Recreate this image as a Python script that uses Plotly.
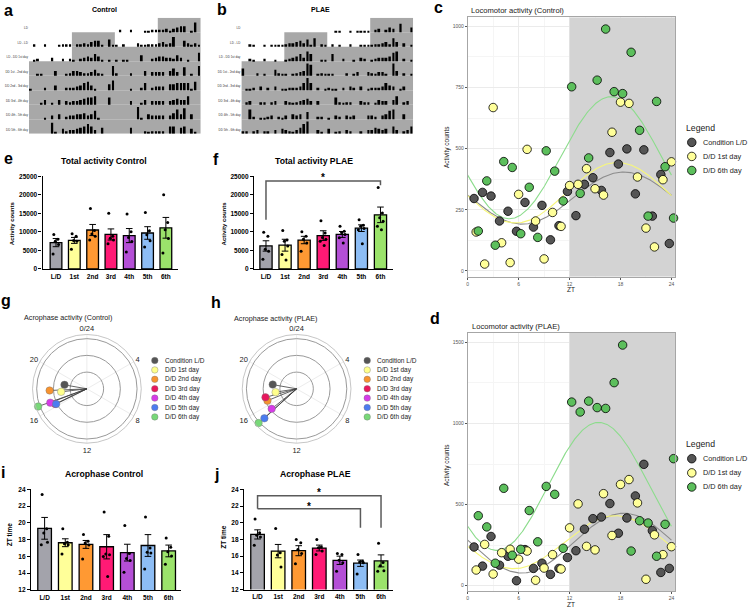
import numpy as np
import plotly.graph_objects as go

W, H = 748, 610
FONT = "Liberation Sans, Arial, sans-serif"

# ---------------- a/b actograms: activity per hour (0-10), double plotted 48 h
row_labels = ["LD", "LD - LD", "LD - DD 1st day", "DD 1st - 2nd day", "DD 2nd - 3rd day",
              "DD 3rd - 4th day", "DD 4th - 5th day", "DD 5th - 6th day"]
row_dark = [[(36, 48)], [(12, 24), (36, 48)], [(12, 48)], [(0, 48)], [(0, 48)],
            [(0, 48)], [(0, 48)], [(0, 48)]]

acto_control = [
    [0,0,0,0,0,0,0,0,0,0,0,0, 0,0,0,0,0,0,0,0,0,0,0,0, 0,2,0,0,2,0,0,0,1,1,2,2, 2,2,3,1,3,4,5,5,0,1,8,0],
    [0,2,0,0,2,0,0,0,1,2,2,2, 0,2,2,3,2,4,5,5,1,0,6,1, 1,0,2,0,0,0,3,1,1,2,2,2, 3,4,2,3,8,0,0,5,3,1,3,1],
    [0,1,2,0,0,0,3,0,0,2,0,2, 1,0,2,3,4,3,6,4,1,0,1,0, 1,0,1,1,0,0,0,5,0,0,2,3, 4,4,3,3,2,5,3,0,1,0,0,7],
    [0,0,1,1,0,0,0,4,0,0,1,2, 4,4,3,2,2,3,5,2,1,0,0,8, 2,0,0,0,2,0,0,0,4,0,3,3, 3,3,0,4,6,3,0,7,0,1,0,8],
    [1,0,0,0,2,0,0,4,0,0,2,2, 2,3,4,6,7,4,1,0,0,0,5,8, 0,0,0,0,1,0,0,2,6,0,2,3, 3,3,0,5,5,6,6,6,6,1,7,0],
    [0,0,0,1,4,0,1,0,4,0,3,2, 3,3,4,5,6,6,7,0,0,0,6,0, 0,0,0,0,3,0,0,1,4,0,3,3, 3,3,0,3,4,5,4,4,7,0,0,0],
    [0,0,0,0,1,0,3,0,4,0,2,3, 3,4,4,5,3,4,7,1,0,0,0,0, 0,0,0,0,0,0,10,1,0,4,3,3, 3,3,0,3,5,8,4,9,0,4,0,0],
    [0,0,0,0,0,0,9,1,0,4,2,3, 3,4,5,6,8,6,3,0,5,0,0,0, 0,0,0,0,5,0,0,0,2,1,2,2, 2,2,0,6,6,0,5,6,0,4,1,0],
]
acto_plae = [
    [0,0,0,0,0,0,0,0,0,0,0,0, 0,0,0,0,0,0,0,0,0,0,0,0, 0,0,1,1,0,0,1,0,1,1,1,1, 0,2,3,0,2,4,3,0,7,0,0,4],
    [0,0,2,1,0,0,1,0,1,1,1,1, 2,3,3,4,5,3,6,1,7,0,2,1, 0,2,0,1,0,0,2,0,0,1,1,1, 1,2,2,3,4,2,7,4,0,3,0,1],
    [0,0,2,1,0,0,2,0,0,1,0,0, 1,2,3,4,6,3,8,6,0,0,1,1, 0,6,0,0,2,0,0,1,0,3,2,0, 1,2,3,3,3,4,7,8,0,2,0,1],
    [6,0,0,0,2,0,1,0,0,5,2,1, 1,0,1,2,3,4,10,9,0,1,2,1, 1,1,0,0,0,2,0,1,3,0,0,3, 2,1,3,3,1,0,10,4,0,2,0,1],
    [0,1,1,2,0,3,0,2,0,3,0,1, 1,2,2,2,3,6,10,6,0,2,0,1, 2,1,1,0,2,0,3,2,0,3,0,1, 2,2,2,3,6,4,3,0,1,3,0,0],
    [0,2,3,0,0,2,2,0,2,3,0,0, 3,2,1,2,3,4,5,3,0,3,0,0, 0,0,6,2,1,2,2,0,0,3,2,2, 0,1,4,3,3,0,4,7,0,2,3,0],
    [0,0,8,2,0,1,1,2,3,0,2,1, 3,0,4,3,4,0,6,0,0,2,2,0, 1,0,3,2,0,3,2,3,0,0,0,3, 3,2,0,3,4,7,8,0,0,4,0,0],
    [2,2,0,2,3,0,2,2,0,3,0,4, 3,2,1,3,5,8,10,0,0,3,1,0, 4,0,1,2,0,3,2,0,0,2,0,3, 3,5,4,3,4,0,6,3,0,2,3,6],
]

# ---------------- e/f/i/j bar charts
bar_labels = ["L/D", "1st", "2nd", "3rd", "4th", "5th", "6th"]
bar_colors = ["#a3a3ab", "#ffff99", "#ff9933", "#ff1a75", "#b44fd6", "#8dbdf5", "#9be36b"]

tot_ctrl_mean = [7100, 7700, 10500, 9300, 9000, 9700, 11100]
tot_ctrl_sem = [1100, 800, 1500, 1500, 1900, 1700, 2800]
tot_ctrl_pts = [[9300, 8000, 7500, 6600, 4000], [9500, 8800, 7700, 7500, 5300],
                [16300, 10400, 9400, 8800, 7800], [15000, 8800, 8300, 7800, 6800],
                [14800, 10000, 8500, 7400, 4600], [15200, 10300, 9200, 7600, 5900],
                [20000, 12500, 10600, 8200, 4300]]

tot_plae_mean = [6200, 6400, 7800, 9000, 9300, 11000, 14600]
tot_plae_sem = [1400, 1600, 1000, 1300, 800, 900, 2100]
tot_plae_pts = [[9900, 8800, 5300, 4800, 2600], [10400, 7800, 7500, 6200, 3900, 2400],
                [10000, 8800, 8000, 7000, 4800], [13000, 9700, 8500, 8000, 7500, 6300],
                [11500, 10200, 9800, 9300, 8400, 7000], [13300, 11800, 11500, 10900, 10600, 6800],
                [22000, 15100, 13800, 12900, 11500, 10600]]

acro_ctrl_mean = [19.35, 17.63, 17.43, 17.15, 16.45, 17.3, 16.65]
acro_ctrl_sem = [1.3, 0.47, 0.47, 1.45, 1.0, 1.3, 0.7]
acro_ctrl_pts = [[23.4, 19.3, 18.8, 17.7, 17.4], [19.3, 17.7, 17.5, 17.4, 16.3],
                 [18.6, 17.8, 17.6, 17.35, 15.7], [21.3, 18.4, 16.3, 16.2, 16.0, 13.6],
                 [19.7, 16.35, 15.75, 15.5, 14.1], [20.7, 17.0, 16.5, 16.4, 14.5],
                 [18.2, 17.1, 16.55, 16.05, 15.05]]

acro_plae_mean = [18.6, 16.6, 16.65, 16.97, 15.5, 15.15, 15.43]
acro_plae_sem = [0.55, 0.8, 0.6, 0.35, 0.5, 0.38, 0.72]
acro_plae_pts = [[20.45, 18.8, 18.5, 18.3, 17.3], [19.3, 16.4, 16.15, 14.7],
                 [18.0, 17.6, 16.8, 16.3, 15.1], [18.0, 17.1, 17.0, 16.6, 16.2],
                 [16.3, 16.2, 15.5, 15.2, 14.2], [16.2, 15.4, 15.3, 15.2, 13.85],
                 [17.55, 15.25, 14.85, 14.25, 14.2]]

jitter = [-0.12, 0.1, -0.04, 0.14, -0.16, 0.05]

# ---------------- g/h acrophase (hours) and amplitude (radius)
phase_names = ["Condition L/D", "D/D 1st day", "D/D 2nd day", "D/D 3rd day",
               "D/D 4th day", "D/D 5th day", "D/D 6th day"]
phase_colors = ["#555555", "#ffff8c", "#f7932f", "#e8175d", "#d63be8", "#4c7cf0", "#78d878"]
phase_ctrl_h = [18.67, 17.56, 17.83, 16.3, 16.62, 16.25, 16.67]
phase_ctrl_r = [1.36, 1.55, 2.23, 2.1, 2.34, 2.05, 3.1]
phase_plae_h = [18.67, 17.4, 16.53, 16.98, 15.42, 15.17, 15.2]
phase_plae_r = [1.45, 1.27, 1.88, 1.93, 1.91, 2.61, 3.06]
angle_ticks = [0, 4, 8, 12, 16, 20]
angle_text = ["0/24", "4", "8", "12", "16", "20"]

# ---------------- c/d locomotor activity per ZT
loco_names = ["Condition L/D", "D/D 1st day", "D/D 6th day"]
loco_colors = ["#555555", "#ffff99", "#5cbf5c"]
fit_colors = ["#8c8c8c", "#f7f77a", "#8cdc8c"]
zt_ld = [0.75, 1.75, 2.75, 3.75, 4.75, 5.75, 6.75, 7.75, 8.75, 9.75, 10.75, 11.75,
         12.75, 13.75, 14.75, 15.75, 16.75, 17.75, 18.75, 19.75, 20.75, 21.75, 22.75, 23.75]
zt_dd1 = [1, 2, 3, 4, 5, 6, 7, 8, 9, 10, 11, 12, 13, 14, 15, 16, 17, 18, 19, 20, 21, 22, 23, 24]
zt_dd6 = [1.25, 2.25, 3.25, 4.25, 5.25, 6.25, 7.25, 8.25, 9.25, 10.25, 11.25, 12.25,
          13.25, 14.25, 15.25, 16.25, 17.25, 18.25, 19.25, 20.25, 21.25, 22.25, 23.25, 24.25]

loco_ctrl_ld = [296, 321, 306, 204, 244, 162, 280, 179, 268, 127, 185, 325,
                226, 354, 381, 329, 484, 437, 499, 315, 495, 224, 394, 112]
loco_ctrl_dd1 = [159, 28, 668, 115, 34, 313, 497, 204, 49, 239, 182, 349,
                 354, 418, 336, 310, 567, 690, 685, 384, 175, 98, 373, 446]
loco_ctrl_dd6 = [163, 368, 105, 447, 423, 152, 342, 137, 491, 408, 286, 753,
                 317, 462, 780, 989, 733, 725, 894, 575, 224, 693, 426, 216]

loco_plae_ld = [238, 120, 303, 126, 181, 30, 222, 106, 138, 69, 106, 173,
                215, 348, 413, 423, 506, 323, 417, 553, 748, 339, 81, 106]
loco_plae_dd1 = [96, 254, 71, 203, 224, 163, 213, 33, 108, 191, 102, 356,
                 504, 242, 220, 567, 309, 624, 654, 510, 39, 313, 191, 240]
loco_plae_dd6 = [431, 362, 138, 600, 187, 224, 463, 270, 612, 563, 230, 1132,
                 1071, 1138, 1098, 1093, 1252, 1484, 213, 400, 386, 181, 378, 783]
lights_off = 12
zt_max = 24.43


def xd(a, b):
    return [a / W, b / W]


def yd(top, bottom):
    return [1 - bottom / H, 1 - top / H]


def cosinor(t, y):
    # least squares fit of a 24 h cosine to the points
    w = 2 * np.pi / 24
    t = np.asarray(t, float)
    X = np.column_stack([np.ones_like(t), np.cos(w * t), np.sin(w * t)])
    coef = np.linalg.lstsq(X, np.asarray(y, float), rcond=None)[0]
    tt = np.linspace(0, 24, 241)
    return tt, coef[0] + coef[1] * np.cos(w * tt) + coef[2] * np.sin(w * tt)


fig = go.Figure()
layout = {}
shapes = []
annotations = []


def label(text, px, py, size, weight="normal", xanchor="center", angle=0, color="black"):
    annotations.append(dict(text=text, x=px / W, y=1 - py / H, xref="paper", yref="paper",
                            xanchor=xanchor, yanchor="middle", showarrow=False, textangle=angle,
                            font=dict(size=size, color=color, family=FONT, weight=weight)))


# ---- actograms
for n, rows, dom in [(1, acto_control, xd(28, 200)), (2, acto_plae, xd(240.7, 412.7))]:
    xa, ya = ("x", "y") if n == 1 else ("x2", "y2")
    xs, ys, bases = [], [], []
    for r, row in enumerate(rows):
        base = len(rows) - 1 - r
        for a0, a1 in row_dark[r]:
            shapes.append(dict(type="rect", xref=xa, yref=ya, x0=a0, x1=a1, y0=base, y1=base + 1,
                               fillcolor="#a8a8a8", line_width=0, layer="below"))
        for h, v in enumerate(row):
            if v > 0:
                xs.append(h + 0.5)
                ys.append(v * 0.085)
                bases.append(base)
    fig.add_trace(go.Bar(x=xs, y=ys, base=bases, width=0.55, marker=dict(color="black", line_width=0),
                         xaxis=xa, yaxis=ya, showlegend=False, hoverinfo="skip"))
    sfx = "" if n == 1 else "2"
    layout["xaxis" + sfx] = dict(domain=dom, range=[0, 48], visible=False, anchor="y" + sfx)
    layout["yaxis" + sfx] = dict(domain=yd(14.0, 131.3), range=[0, 8], anchor="x" + sfx,
                                 tickvals=[len(rows) - 1 - r + 0.3 for r in range(len(rows))],
                                 ticktext=row_labels, tickfont=dict(size=3, color="#333"),
                                 showgrid=False, zeroline=False, showline=False, ticks="")


# ---- bar panels
def bar_panel(n, xdom, xr, ydom, yr, dtick, means, sems, pts, width):
    xa, ya = f"x{n}", f"y{n}"
    fig.add_trace(go.Bar(x=list(range(len(means))), y=means, width=width,
                         marker=dict(color=bar_colors, line=dict(color="black", width=1.3)),
                         error_y=dict(type="data", array=sems, color="black", thickness=1, width=3.3),
                         xaxis=xa, yaxis=ya, showlegend=False))
    xs, ys = [], []
    for i, p in enumerate(pts):
        for j, v in enumerate(p):
            xs.append(i + jitter[j % len(jitter)])
            ys.append(v)
    fig.add_trace(go.Scatter(x=xs, y=ys, mode="markers", marker=dict(color="black", size=3),
                             xaxis=xa, yaxis=ya, showlegend=False, cliponaxis=False))
    layout[f"xaxis{n}"] = dict(domain=xdom, range=xr, anchor=ya, tickvals=list(range(7)),
                               ticktext=bar_labels, showline=True, linecolor="black", linewidth=1.3,
                               ticks="", showgrid=False, zeroline=False, ticklabelstandoff=1,
                               tickfont=dict(size=6.5, family=FONT, weight="bold", color="black"))
    layout[f"yaxis{n}"] = dict(domain=ydom, range=yr, dtick=dtick, anchor=xa, showline=True,
                               linecolor="black", linewidth=1.3, ticks="outside", ticklen=3,
                               tickwidth=1.2, tickcolor="black", showgrid=False, zeroline=False,
                               tickformat="d",
                               tickfont=dict(size=6.5, family=FONT, weight="bold", color="black"))


bar_panel(3, xd(41.7, 177), [-0.73, 6.65], yd(174.3, 268), [0, 25000], 5000,
          tot_ctrl_mean, tot_ctrl_sem, tot_ctrl_pts, 0.64)
bar_panel(4, xd(253.3, 392.4), [-0.63, 6.65], yd(174.3, 268), [0, 25000], 5000,
          tot_plae_mean, tot_plae_sem, tot_plae_pts, 0.64)
bar_panel(5, xd(30, 180.3), [-0.66, 6.6], yd(491, 592.7), [12, 24], 2,
          acro_ctrl_mean, acro_ctrl_sem, acro_ctrl_pts, 0.66)
bar_panel(6, xd(243.3, 392.9), [-0.66, 6.6], yd(491, 592.3), [12, 24], 2,
          acro_plae_mean, acro_plae_sem, acro_plae_pts, 0.66)

# significance brackets
for xa, ya, bx, by in [("x4", "y4", [0, 0, 6, 6], [13300, 23750, 23750, 22600]),
                       ("x6", "y6", [0, 0, 6, 6], [21.67, 23.25, 23.25, 19.4]),
                       ("x6", "y6", [0, 5, 5], [21.67, 21.67, 19.4])]:
    fig.add_trace(go.Scatter(x=bx, y=by, mode="lines", line=dict(color="#5a5a5a", width=1.5),
                             xaxis=xa, yaxis=ya, showlegend=False, cliponaxis=False, hoverinfo="skip"))
for xa, ya, sx, sy in [("x4", "y4", 3, 24600), ("x6", "y6", 3, 23.6), ("x6", "y6", 2.5, 22.0)]:
    annotations.append(dict(text="*", x=sx, y=sy, xref=xa, yref=ya, showarrow=False,
                            font=dict(size=10, family=FONT, weight="bold", color="black")))


# ---- polar acrophase panels
def polar_panel(name, xdom, hours, radii):
    theta = [h * 15 for h in hours]
    for t, r in zip(theta, radii):
        fig.add_trace(go.Scatterpolar(r=[0, r], theta=[t, t], mode="lines",
                                      line=dict(color="#3c3c3c", width=0.8),
                                      subplot=name, showlegend=False, hoverinfo="skip"))
    fig.add_trace(go.Scatterpolar(r=radii, theta=theta, mode="markers",
                                  marker=dict(color=phase_colors, size=7.5, line=dict(color="#777", width=0.4)),
                                  subplot=name, showlegend=False, text=phase_names))
    layout[name] = dict(
        domain=dict(x=xdom, y=yd(334.3, 444.3)), bgcolor="white",
        radialaxis=dict(range=[0, 3.25], tickvals=[1, 2, 3], showticklabels=False, ticks="",
                        showline=False, gridcolor="#9a9a9a", gridwidth=0.8),
        angularaxis=dict(rotation=90, direction="clockwise", tickvals=[a * 15 for a in angle_ticks],
                         ticktext=angle_text, ticks="", showline=True, linecolor="#b8b8b8",
                         linewidth=0.8, gridcolor="#ececec",
                         tickfont=dict(size=7.5, family=FONT, color="#222")))


polar_panel("polar", xd(31, 141), phase_ctrl_h, phase_ctrl_r)
polar_panel("polar2", xd(241, 351), phase_plae_h, phase_plae_r)


# ---- locomotor panels
def loco_panel(n, ydom, yr, ydt, series):
    xa, ya = f"x{n}", f"y{n}"
    # dark phase shading (drawn as the first trace so it sits above the grid)
    fig.add_trace(go.Scatter(x=[lights_off, zt_max, zt_max, lights_off], y=[yr[0], yr[0], yr[1], yr[1]],
                             fill="toself", fillcolor="#d3d3d3", mode="none",
                             xaxis=xa, yaxis=ya, showlegend=False, hoverinfo="skip"))
    for (t, y), lc in zip(series, fit_colors):
        tt, yy = cosinor(t, y)
        fig.add_trace(go.Scatter(x=tt, y=yy, mode="lines", line=dict(color=lc, width=1.1),
                                 xaxis=xa, yaxis=ya, showlegend=False, hoverinfo="skip"))
    for (t, y), c, nm in zip(series, loco_colors, loco_names):
        fig.add_trace(go.Scatter(x=t, y=y, mode="markers", name=nm,
                                 marker=dict(color=c, size=8.5, line=dict(color="black", width=0.8)),
                                 xaxis=xa, yaxis=ya, showlegend=False, cliponaxis=False))
    common = dict(showgrid=True, gridcolor="#ebebeb", gridwidth=0.8, showline=True, mirror=True,
                  linecolor="#a6a6a6", linewidth=0.8, ticks="outside", ticklen=2, tickwidth=0.6,
                  tickcolor="#555", zeroline=False, tickfont=dict(size=5, color="#555", family=FONT))
    layout[f"xaxis{n}"] = dict(domain=xd(467.3, 675), range=[0, zt_max], anchor=ya, dtick=6, tick0=0,
                               minor=dict(dtick=3, showgrid=True, gridcolor="#f5f5f5", gridwidth=0.5, ticks=""),
                               **common)
    layout[f"yaxis{n}"] = dict(domain=ydom, range=yr, anchor=xa, dtick=ydt, tick0=0,
                               minor=dict(dtick=ydt / 2, showgrid=True, gridcolor="#f5f5f5", gridwidth=0.5, ticks=""),
                               **common)


loco_panel(7, yd(13.3, 276), [-24.3, 1037.7], 250,
           [(zt_ld, loco_ctrl_ld), (zt_dd1, loco_ctrl_dd1), (zt_dd6, loco_ctrl_dd6)])
loco_panel(8, yd(332.7, 594), [-34.6, 1559], 500,
           [(zt_ld, loco_plae_ld), (zt_dd1, loco_plae_dd1), (zt_dd6, loco_plae_dd6)])

# ---- legends drawn on a page-sized overlay axis (pixel units)
layout["xaxis9"] = dict(domain=[0, 1], range=[0, W], visible=False, anchor="y9")
layout["yaxis9"] = dict(domain=[0, 1], range=[H, 0], visible=False, anchor="x9")


def legend_block(names, colors, mx, my, dy, size, outline, text_size):
    ys = [my + i * dy for i in range(len(names))]
    fig.add_trace(go.Scatter(x=[mx] * len(names), y=ys, mode="markers",
                             marker=dict(color=colors, size=size, line=outline),
                             xaxis="x9", yaxis="y9", showlegend=False, hoverinfo="skip"))
    for nm, y in zip(names, ys):
        label(nm, mx + size / 2 + 5, y, text_size, xanchor="left", color="#222")


legend_block(loco_names, loco_colors, 691.7, 140, 14.2, 8.5, dict(color="black", width=0.8), 7.3)
legend_block(loco_names, loco_colors, 691.7, 460, 14.3, 8.5, dict(color="black", width=0.8), 7.3)
legend_block(phase_names, phase_colors, 154, 360.7, 9.5, 6.5, dict(color="#777", width=0.4), 6.5)
legend_block(phase_names, phase_colors, 366.7, 360.7, 9.5, 6.5, dict(color="#777", width=0.4), 6.5)
label("Legend", 684, 125, 8.7, xanchor="left", color="#222")
label("Legend", 684, 445, 8.7, xanchor="left", color="#222")

# ---- titles and panel letters
for t, px, py in [("a", 8, 7), ("b", 221.7, 6), ("c", 438, 4), ("d", 435, 318), ("e", 8, 156),
                  ("f", 215.5, 157), ("g", 5, 300), ("h", 215.3, 301.5), ("i", 2, 474), ("j", 215.5, 476)]:
    label(t, px, py, 16, weight="bold")
label("Control", 103.3, 5.5, 7, weight="bold")
label("PLAE", 320, 5.5, 7, weight="bold")
label("Total activity Control", 103.3, 159, 8.7, weight="bold")
label("Total activity PLAE", 313.3, 159, 8.7, weight="bold")
label("Acrophase Control", 103.3, 475.7, 8.7, weight="bold")
label("Acrophase PLAE", 315, 475.7, 8.7, weight="bold")
label("Activity counts", 11.7, 222, 6, weight="bold", angle=-90)
label("Activity counts", 223.3, 222, 6, weight="bold", angle=-90)
label("ZT time", 9.3, 537, 6.5, weight="bold", angle=-90)
label("ZT time", 223.3, 540, 6.5, weight="bold", angle=-90)
label("Acrophase activity (Control)", 20.7, 317, 7.2, xanchor="left", color="#222")
label("Acrophase activity (PLAE)", 231.7, 318, 7.2, xanchor="left", color="#222")
label("Locomotor activity (Control)", 468.3, 6.7, 7.6, xanchor="left", color="#222")
label("Locomotor activity (PLAE)", 469.3, 326.7, 7.6, xanchor="left", color="#222")
label("Activity counts", 447.3, 145, 6.5, angle=-90, color="#222")
label("Activity counts", 447.3, 466.7, 6.5, angle=-90, color="#222")
label("ZT", 570.7, 288.5, 6.5, color="#222")
label("ZT", 570.7, 607, 6.5, color="#222")

fig.update_layout(width=W, height=H, autosize=False, margin=dict(l=0, r=0, t=0, b=0),
                  paper_bgcolor="white", plot_bgcolor="rgba(0,0,0,0)", barmode="overlay",
                  font=dict(family=FONT), shapes=shapes, annotations=annotations, **layout)
fig.write_html("out.html", config={"displayModeBar": False},
               post_script="document.body.style.margin='0px';")
